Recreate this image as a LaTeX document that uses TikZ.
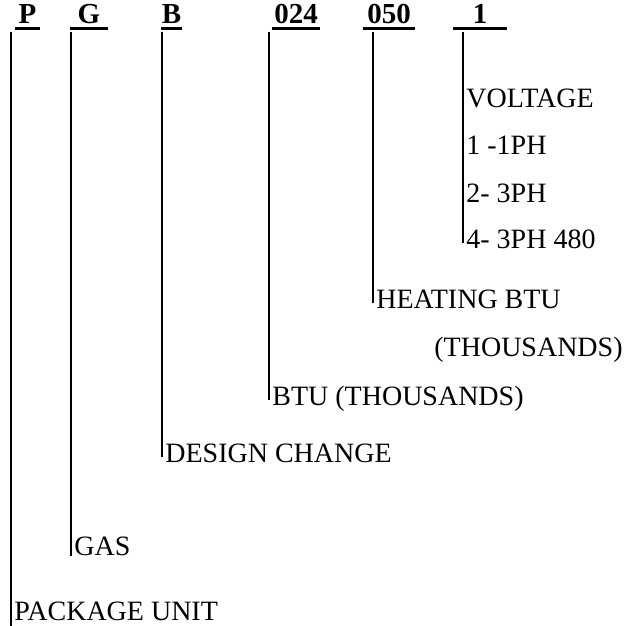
\documentclass[tikz,border=0pt]{standalone}
\usepackage{fontspec}
\setmainfont{Liberation Serif}

\tikzset{
  code/.style={font=\fontsize{14.5}{16}\selectfont\bfseries, anchor=base,
    inner xsep=0pt, inner ysep=2pt, text depth=0pt},
  desc/.style={font=\fontsize{14}{16}\selectfont, anchor=base west,
    inner xsep=1.5pt, inner ysep=0pt},
  uline/.style={line width=1.3pt},
  lead/.style={line width=0.6pt}
}

\begin{document}
\begin{tikzpicture}[x=0.5pt, y=-0.5pt]
    \useasboundingbox (0,0) rectangle (625,626);

    % Model number parts (bold, underlined)
    \node[code, minimum width=12.5pt] (pcode)    at (27.5,24) {P};
    \node[code, minimum width=19pt]   (gcode)    at (89,24)   {G};
    \node[code, minimum width=10.5pt] (bcode)    at (171.5,24) {B};
    \node[code, minimum width=24pt]   (coolcode) at (296,24)  {024};
    \node[code, minimum width=26pt]   (heatcode) at (389,24)  {050};
    \node[code, minimum width=27pt]   (voltcode) at (480,24)  {1};
    \foreach \c in {pcode,gcode,bcode,coolcode,heatcode,voltcode}
        \draw[uline] (\c.south west) -- (\c.south east);

    % Meaning of each part
    \node[desc] (volt) at (463,108) {VOLTAGE};
    \node[desc] (v1)   at (463,155) {1 -1PH};
    \node[desc] (v2)   at (463,202) {2- 3PH};
    \node[desc] (v4)   at (463,248) {4- 3PH 480};
    \node[desc] (heat) at (373,308) {HEATING BTU};
    \node[desc] (heatunit) at (431,356) {(THOUSANDS)};
    \node[desc] (cool)   at (269,405) {BTU (THOUSANDS)};
    \node[desc] (design) at (162,462) {DESIGN CHANGE};
    \node[desc] (gas)    at (71,555)  {GAS};
    \node[desc] (pkg)    at (11,620)  {PACKAGE UNIT};

    % Leader lines
    \foreach \c/\l/\a in {gcode/gas/south west, bcode/design/mid west,
        coolcode/cool/mid west, heatcode/heat/mid west, voltcode/v4/mid west}
        \draw[lead, shorten <=2pt] (\l.\a |- \c.south) -- (\l.\a);
    \draw[lead, shorten <=2pt, shorten >=-2.5pt] (pkg.south west |- pcode.south) -- (pkg.south west);
\end{tikzpicture}
\end{document}
